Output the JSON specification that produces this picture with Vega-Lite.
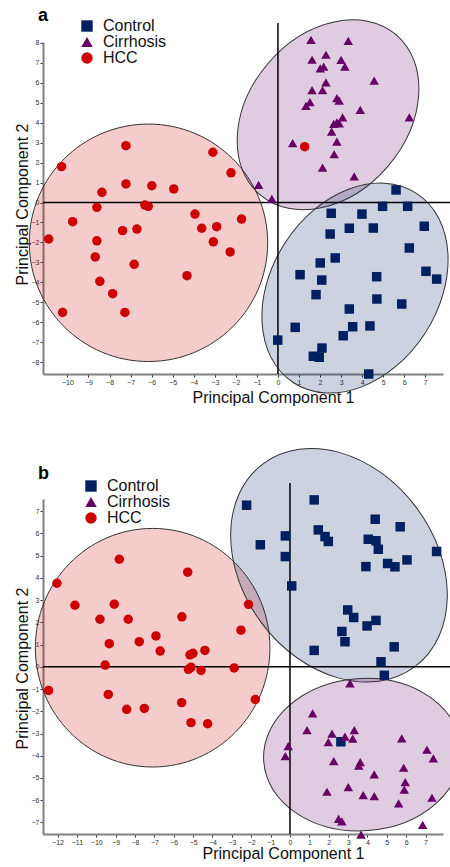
{
  "$schema": "https://vega.github.io/schema/vega-lite/v6.json",
  "padding": {"left": 14, "top": 6, "right": -11, "bottom": 0},
  "autosize": {"type": "pad"},
  "config": {
    "font": "Liberation Sans",
    "view": {"stroke": null},
    "axis": {"grid": false, "domainColor": "#808080", "domainWidth": 2, "tickColor": "#333333", "tickSize": 3, "tickWidth": 1, "labelFontSize": 7, "labelColor": "#333333", "labelPadding": 1, "titleFontSize": 16, "titleFontWeight": "normal", "titleColor": "#111111", "labelFont": "Liberation Sans", "titleFont": "Liberation Sans"},
    "legend": {"padding": 0, "labelFontSize": 16, "labelColor": "#111111", "labelFont": "Liberation Sans", "symbolSize": 130, "rowPadding": -0.5, "labelOffset": 8, "symbolStrokeWidth": 0, "symbolOpacity": 1}
  },
  "datasets": {
    "a_pts": [
      {"group": "HCC", "x": -10.28, "y": 1.80}, {"group": "HCC", "x": -7.22, "y": 2.85}, {"group": "HCC", "x": -3.09, "y": 2.52}, {"group": "HCC", "x": -7.22, "y": 0.93}, {"group": "HCC", "x": -5.99, "y": 0.84}, {"group": "HCC", "x": -4.95, "y": 0.68}, {"group": "HCC", "x": -8.36, "y": 0.51}, {"group": "HCC", "x": -8.60, "y": -0.24}, {"group": "HCC", "x": -6.32, "y": -0.13}, {"group": "HCC", "x": -6.16, "y": -0.19}, {"group": "HCC", "x": -3.94, "y": -0.58}, {"group": "HCC", "x": -9.75, "y": -0.96}, {"group": "HCC", "x": -10.89, "y": -1.83}, {"group": "HCC", "x": -8.60, "y": -1.92}, {"group": "HCC", "x": -7.38, "y": -1.41}, {"group": "HCC", "x": -6.70, "y": -1.33}, {"group": "HCC", "x": -3.62, "y": -1.29}, {"group": "HCC", "x": -2.91, "y": -1.21}, {"group": "HCC", "x": -3.07, "y": -1.97}, {"group": "HCC", "x": -8.68, "y": -2.73}, {"group": "HCC", "x": -6.83, "y": -3.10}, {"group": "HCC", "x": -4.32, "y": -3.67}, {"group": "HCC", "x": -8.46, "y": -3.95}, {"group": "HCC", "x": -7.85, "y": -4.57}, {"group": "HCC", "x": -10.23, "y": -5.51}, {"group": "HCC", "x": -7.27, "y": -5.51}, {"group": "HCC", "x": -2.23, "y": 1.49}, {"group": "HCC", "x": -1.73, "y": -0.83}, {"group": "HCC", "x": -2.27, "y": -2.48}, {"group": "HCC", "x": 1.27, "y": 2.80},
      {"group": "Cirrhosis", "x": 1.57, "y": 8.16}, {"group": "Cirrhosis", "x": 3.34, "y": 8.11}, {"group": "Cirrhosis", "x": 1.62, "y": 7.16}, {"group": "Cirrhosis", "x": 2.28, "y": 7.41}, {"group": "Cirrhosis", "x": 3.00, "y": 7.15}, {"group": "Cirrhosis", "x": 3.18, "y": 6.81}, {"group": "Cirrhosis", "x": 2.01, "y": 6.73}, {"group": "Cirrhosis", "x": 2.17, "y": 6.81}, {"group": "Cirrhosis", "x": 2.28, "y": 6.03}, {"group": "Cirrhosis", "x": 1.62, "y": 5.64}, {"group": "Cirrhosis", "x": 2.12, "y": 5.64}, {"group": "Cirrhosis", "x": 4.57, "y": 6.11}, {"group": "Cirrhosis", "x": 2.80, "y": 5.24}, {"group": "Cirrhosis", "x": 2.91, "y": 5.11}, {"group": "Cirrhosis", "x": 1.52, "y": 5.03}, {"group": "Cirrhosis", "x": 1.33, "y": 4.85}, {"group": "Cirrhosis", "x": 3.91, "y": 4.65}, {"group": "Cirrhosis", "x": 6.24, "y": 4.27}, {"group": "Cirrhosis", "x": 3.07, "y": 4.27}, {"group": "Cirrhosis", "x": 2.80, "y": 4.02}, {"group": "Cirrhosis", "x": 2.91, "y": 3.97}, {"group": "Cirrhosis", "x": 2.65, "y": 3.94}, {"group": "Cirrhosis", "x": 2.55, "y": 3.55}, {"group": "Cirrhosis", "x": 2.80, "y": 3.05}, {"group": "Cirrhosis", "x": 0.70, "y": 2.98}, {"group": "Cirrhosis", "x": 2.67, "y": 2.42}, {"group": "Cirrhosis", "x": 2.12, "y": 1.75}, {"group": "Cirrhosis", "x": 3.62, "y": 1.31}, {"group": "Cirrhosis", "x": -0.92, "y": 0.88}, {"group": "Cirrhosis", "x": -0.29, "y": 0.18},
      {"group": "Control", "x": 5.61, "y": 0.63}, {"group": "Control", "x": 2.53, "y": -0.54}, {"group": "Control", "x": 3.99, "y": -0.58}, {"group": "Control", "x": 4.97, "y": -0.19}, {"group": "Control", "x": 6.16, "y": -0.19}, {"group": "Control", "x": 3.39, "y": -1.29}, {"group": "Control", "x": 4.53, "y": -1.28}, {"group": "Control", "x": 6.95, "y": -1.19}, {"group": "Control", "x": 2.48, "y": -1.58}, {"group": "Control", "x": 6.24, "y": -2.28}, {"group": "Control", "x": 2.72, "y": -2.78}, {"group": "Control", "x": 2.01, "y": -3.03}, {"group": "Control", "x": 1.05, "y": -3.62}, {"group": "Control", "x": 2.08, "y": -3.89}, {"group": "Control", "x": 4.69, "y": -3.72}, {"group": "Control", "x": 7.03, "y": -3.45}, {"group": "Control", "x": 7.54, "y": -3.84}, {"group": "Control", "x": 1.81, "y": -4.62}, {"group": "Control", "x": 4.70, "y": -4.84}, {"group": "Control", "x": 5.88, "y": -5.09}, {"group": "Control", "x": 3.39, "y": -5.34}, {"group": "Control", "x": 0.82, "y": -6.26}, {"group": "Control", "x": 3.55, "y": -6.23}, {"group": "Control", "x": 4.37, "y": -6.19}, {"group": "Control", "x": 3.10, "y": -6.68}, {"group": "Control", "x": -0.01, "y": -6.90}, {"group": "Control", "x": 2.09, "y": -7.30}, {"group": "Control", "x": 1.68, "y": -7.71}, {"group": "Control", "x": 1.96, "y": -7.76}, {"group": "Control", "x": 4.31, "y": -8.60}
    ],
    "b_pts": [
      {"group": "HCC", "x": -12.03, "y": 3.76}, {"group": "HCC", "x": -8.81, "y": 4.84}, {"group": "HCC", "x": -5.28, "y": 4.26}, {"group": "HCC", "x": -11.10, "y": 2.77}, {"group": "HCC", "x": -9.07, "y": 2.82}, {"group": "HCC", "x": -9.81, "y": 2.14}, {"group": "HCC", "x": -8.35, "y": 2.14}, {"group": "HCC", "x": -5.58, "y": 2.25}, {"group": "HCC", "x": -6.92, "y": 1.39}, {"group": "HCC", "x": -7.78, "y": 1.13}, {"group": "HCC", "x": -9.33, "y": 1.04}, {"group": "HCC", "x": -6.70, "y": 0.71}, {"group": "HCC", "x": -5.16, "y": 0.54}, {"group": "HCC", "x": -5.01, "y": 0.61}, {"group": "HCC", "x": -4.39, "y": 0.74}, {"group": "HCC", "x": -9.54, "y": 0.08}, {"group": "HCC", "x": -5.24, "y": -0.11}, {"group": "HCC", "x": -5.11, "y": -0.02}, {"group": "HCC", "x": -4.59, "y": -0.16}, {"group": "HCC", "x": -12.46, "y": -1.06}, {"group": "HCC", "x": -9.38, "y": -1.24}, {"group": "HCC", "x": -8.43, "y": -1.91}, {"group": "HCC", "x": -7.52, "y": -1.87}, {"group": "HCC", "x": -5.59, "y": -1.61}, {"group": "HCC", "x": -5.11, "y": -2.51}, {"group": "HCC", "x": -4.25, "y": -2.56}, {"group": "HCC", "x": -2.14, "y": 2.81}, {"group": "HCC", "x": -2.53, "y": 1.65}, {"group": "HCC", "x": -2.88, "y": -0.05}, {"group": "HCC", "x": -1.79, "y": -1.47},
      {"group": "Control", "x": -2.24, "y": 7.27}, {"group": "Control", "x": 1.25, "y": 7.51}, {"group": "Control", "x": -1.53, "y": 5.49}, {"group": "Control", "x": -0.24, "y": 5.89}, {"group": "Control", "x": -0.24, "y": 4.96}, {"group": "Control", "x": 0.09, "y": 3.64}, {"group": "Control", "x": 1.46, "y": 6.16}, {"group": "Control", "x": 1.81, "y": 5.86}, {"group": "Control", "x": 1.98, "y": 5.64}, {"group": "Control", "x": 4.40, "y": 6.64}, {"group": "Control", "x": 5.69, "y": 6.30}, {"group": "Control", "x": 4.04, "y": 5.74}, {"group": "Control", "x": 4.44, "y": 5.67}, {"group": "Control", "x": 4.56, "y": 5.29}, {"group": "Control", "x": 7.57, "y": 5.19}, {"group": "Control", "x": 6.04, "y": 4.81}, {"group": "Control", "x": 5.04, "y": 4.65}, {"group": "Control", "x": 5.42, "y": 4.50}, {"group": "Control", "x": 3.92, "y": 4.51}, {"group": "Control", "x": 2.98, "y": 2.56}, {"group": "Control", "x": 3.29, "y": 2.22}, {"group": "Control", "x": 4.44, "y": 2.09}, {"group": "Control", "x": 3.98, "y": 1.84}, {"group": "Control", "x": 2.68, "y": 1.59}, {"group": "Control", "x": 2.84, "y": 1.13}, {"group": "Control", "x": 1.25, "y": 0.74}, {"group": "Control", "x": 5.38, "y": 0.90}, {"group": "Control", "x": 4.70, "y": 0.23}, {"group": "Control", "x": 4.87, "y": -0.38}, {"group": "Control", "x": 2.63, "y": -3.37},
      {"group": "Cirrhosis", "x": 3.10, "y": -0.74}, {"group": "Cirrhosis", "x": 1.17, "y": -2.09}, {"group": "Cirrhosis", "x": 0.88, "y": -2.85}, {"group": "Cirrhosis", "x": 2.17, "y": -3.00}, {"group": "Cirrhosis", "x": 1.98, "y": -3.39}, {"group": "Cirrhosis", "x": 3.32, "y": -2.85}, {"group": "Cirrhosis", "x": 2.84, "y": -3.14}, {"group": "Cirrhosis", "x": 3.24, "y": -3.23}, {"group": "Cirrhosis", "x": -0.09, "y": -3.57}, {"group": "Cirrhosis", "x": -0.24, "y": -4.02}, {"group": "Cirrhosis", "x": 2.26, "y": -4.24}, {"group": "Cirrhosis", "x": 3.63, "y": -4.29}, {"group": "Cirrhosis", "x": 3.55, "y": -4.44}, {"group": "Cirrhosis", "x": 5.77, "y": -3.22}, {"group": "Cirrhosis", "x": 7.07, "y": -3.72}, {"group": "Cirrhosis", "x": 7.40, "y": -4.12}, {"group": "Cirrhosis", "x": 5.87, "y": -4.54}, {"group": "Cirrhosis", "x": 4.35, "y": -4.84}, {"group": "Cirrhosis", "x": 5.95, "y": -5.19}, {"group": "Cirrhosis", "x": 5.90, "y": -5.52}, {"group": "Cirrhosis", "x": 3.01, "y": -5.41}, {"group": "Cirrhosis", "x": 1.91, "y": -5.62}, {"group": "Cirrhosis", "x": 3.78, "y": -5.77}, {"group": "Cirrhosis", "x": 4.35, "y": -5.82}, {"group": "Cirrhosis", "x": 7.33, "y": -5.89}, {"group": "Cirrhosis", "x": 5.61, "y": -6.14}, {"group": "Cirrhosis", "x": 2.51, "y": -6.84}, {"group": "Cirrhosis", "x": 2.68, "y": -6.95}, {"group": "Cirrhosis", "x": 6.85, "y": -7.11}, {"group": "Cirrhosis", "x": 3.67, "y": -7.55}
    ],
    "a_ell": [
      {"group": "HCC", "x": -6.15, "y": -2.02},
      {"group": "Cirrhosis", "x": 2.38, "y": 4.40},
      {"group": "Control", "x": 3.66, "y": -4.29}
    ],
    "b_ell": [
      {"group": "HCC", "x": -7.09, "y": 0.86},
      {"group": "Control", "x": 2.53, "y": 4.57},
      {"group": "Cirrhosis", "x": 3.74, "y": -3.95}
    ],
    "a_hline": [{"x": -11.16, "x2": 8.22, "y": 0}],
    "a_vline": [{"x": 0, "y": -8.6, "y2": 9.0}],
    "b_hline": [{"x": -12.75, "x2": 8.31, "y": 0}],
    "b_vline": [{"x": 0, "y": -7.52, "y2": 8.27}]
  },
  "spacing": 125,
  "bounds": "flush",
  "resolve": {"scale": {"color": "independent", "shape": "independent"}},
  "vconcat": [
    {
      "width": 400,
      "height": 332,
      "title": {"text": "a", "anchor": "start", "frame": "group", "fontSize": 18, "fontWeight": "bold", "color": "#000000", "dx": -5, "baseline": "alphabetic", "offset": -21},
      "encoding": {
        "x": {"field": "x", "type": "quantitative", "scale": {"domain": [-11.16, 7.84], "nice": false, "zero": false},
          "axis": {"values": [-10, -9, -8, -7, -6, -5, -4, -3, -2, -1, 0, 1, 2, 3, 4, 5, 6, 7], "title": "Principal Component 1", "titleX": 230, "titleY": 28.5, "titleBaseline": "alphabetic", "titleAlign": "center"}},
        "y": {"field": "y", "type": "quantitative", "scale": {"domain": [-8.6, 8.05], "nice": false, "zero": false},
          "axis": {"values": [-8, -7, -6, -5, -4, -3, -2, -1, 0, 1, 2, 3, 4, 5, 6, 7, 8], "title": "Principal Component 2", "titleX": -15.5, "titleY": 162, "titleAngle": -90, "titleBaseline": "alphabetic", "titleAlign": "center"}}
      },
      "layer": [
        {"data": {"name": "a_ell"}, "transform": [{"filter": "datum.group === 'HCC'"}],
          "mark": {"type": "point", "shape": "M -1 0 A 1 0.996 0 1 1 1 0 A 1 0.996 0 1 1 -1 0 Z", "size": 56835, "angle": 0, "filled": true, "fill": "#cc0000", "fillOpacity": 0.2, "stroke": "#333333", "strokeWidth": 1, "strokeOpacity": 1, "opacity": 1}},
        {"data": {"name": "a_ell"}, "transform": [{"filter": "datum.group === 'Cirrhosis'"}],
          "mark": {"type": "point", "shape": "M -1 0 A 1 0.752 0 1 1 1 0 A 1 0.752 0 1 1 -1 0 Z", "size": 44100, "angle": -49.5, "filled": true, "fill": "#660066", "fillOpacity": 0.2, "stroke": "#333333", "strokeWidth": 1, "strokeOpacity": 1, "opacity": 1}},
        {"data": {"name": "a_ell"}, "transform": [{"filter": "datum.group === 'Control'"}],
          "mark": {"type": "point", "shape": "M -1 0 A 1 0.738 0 1 1 1 0 A 1 0.738 0 1 1 -1 0 Z", "size": 50986, "angle": -57, "filled": true, "fill": "#002060", "fillOpacity": 0.2, "stroke": "#333333", "strokeWidth": 1, "strokeOpacity": 1, "opacity": 1}},
        {"data": {"name": "a_hline"}, "mark": {"type": "rule", "color": "#000000", "strokeWidth": 1.5}, "encoding": {"x2": {"field": "x2"}}},
        {"data": {"name": "a_vline"}, "mark": {"type": "rule", "color": "#000000", "strokeWidth": 1.5}, "encoding": {"y2": {"field": "y2"}}},
        {"data": {"name": "a_pts"}, "mark": {"type": "point", "filled": true, "opacity": 1, "size": 90},
          "encoding": {
            "color": {"field": "group", "type": "nominal", "scale": {"domain": ["Control", "Cirrhosis", "HCC"], "range": ["#002060", "#660066", "#cc0000"]}, "legend": {"orient": "none", "legendX": 36, "legendY": -24, "title": null}},
            "shape": {"field": "group", "type": "nominal", "scale": {"domain": ["Control", "Cirrhosis", "HCC"], "range": ["square", "triangle-up", "circle"]}, "legend": {"orient": "none", "legendX": 36, "legendY": -24, "title": null}}
          }}
      ]
    },
    {
      "width": 400,
      "height": 335,
      "title": {"text": "b", "anchor": "start", "frame": "group", "fontSize": 18, "fontWeight": "bold", "color": "#000000", "dx": -5, "baseline": "alphabetic", "offset": -51},
      "encoding": {
        "x": {"field": "x", "type": "quantitative", "scale": {"domain": [-12.75, 7.9], "nice": false, "zero": false},
          "axis": {"values": [-12, -11, -10, -9, -8, -7, -6, -5, -4, -3, -2, -1, 0, 1, 2, 3, 4, 5, 6, 7], "title": "Principal Component 1", "titleX": 240, "titleY": 24.5, "titleBaseline": "alphabetic", "titleAlign": "center"}},
        "y": {"field": "y", "type": "quantitative", "scale": {"domain": [-7.52, 7.55], "nice": false, "zero": false},
          "axis": {"values": [-7, -6, -5, -4, -3, -2, -1, 0, 1, 2, 3, 4, 5, 6, 7], "title": "Principal Component 2", "titleX": -15.5, "titleY": 169, "titleAngle": -90, "titleBaseline": "alphabetic", "titleAlign": "center"}}
      },
      "layer": [
        {"data": {"name": "b_ell"}, "transform": [{"filter": "datum.group === 'HCC'"}],
          "mark": {"type": "point", "shape": "M -1 0 A 1 1.017 0 1 1 1 0 A 1 1.017 0 1 1 -1 0 Z", "size": 55037, "angle": 0, "filled": true, "fill": "#cc0000", "fillOpacity": 0.2, "stroke": "#333333", "strokeWidth": 1, "strokeOpacity": 1, "opacity": 1}},
        {"data": {"name": "b_ell"}, "transform": [{"filter": "datum.group === 'Control'"}],
          "mark": {"type": "point", "shape": "M -1 0 A 1 0.762 0 1 1 1 0 A 1 0.762 0 1 1 -1 0 Z", "size": 64212, "angle": 53.2, "filled": true, "fill": "#002060", "fillOpacity": 0.2, "stroke": "#333333", "strokeWidth": 1, "strokeOpacity": 1, "opacity": 1}},
        {"data": {"name": "b_ell"}, "transform": [{"filter": "datum.group === 'Cirrhosis'"}],
          "mark": {"type": "point", "shape": "M -1 0 A 1 0.770 0 1 1 1 0 A 1 0.770 0 1 1 -1 0 Z", "size": 39125, "angle": -3.9, "filled": true, "fill": "#660066", "fillOpacity": 0.2, "stroke": "#333333", "strokeWidth": 1, "strokeOpacity": 1, "opacity": 1}},
        {"data": {"name": "b_hline"}, "mark": {"type": "rule", "color": "#000000", "strokeWidth": 1.5}, "encoding": {"x2": {"field": "x2"}}},
        {"data": {"name": "b_vline"}, "mark": {"type": "rule", "color": "#000000", "strokeWidth": 1.5}, "encoding": {"y2": {"field": "y2"}}},
        {"data": {"name": "b_pts"}, "mark": {"type": "point", "filled": true, "opacity": 1, "size": 90},
          "encoding": {
            "color": {"field": "group", "type": "nominal", "scale": {"domain": ["Control", "Cirrhosis", "HCC"], "range": ["#002060", "#660066", "#cc0000"]}, "legend": {"orient": "none", "legendX": 40, "legendY": -21, "title": null}},
            "shape": {"field": "group", "type": "nominal", "scale": {"domain": ["Control", "Cirrhosis", "HCC"], "range": ["square", "triangle-up", "circle"]}, "legend": {"orient": "none", "legendX": 40, "legendY": -21, "title": null}}
          }}
      ]
    }
  ]
}
